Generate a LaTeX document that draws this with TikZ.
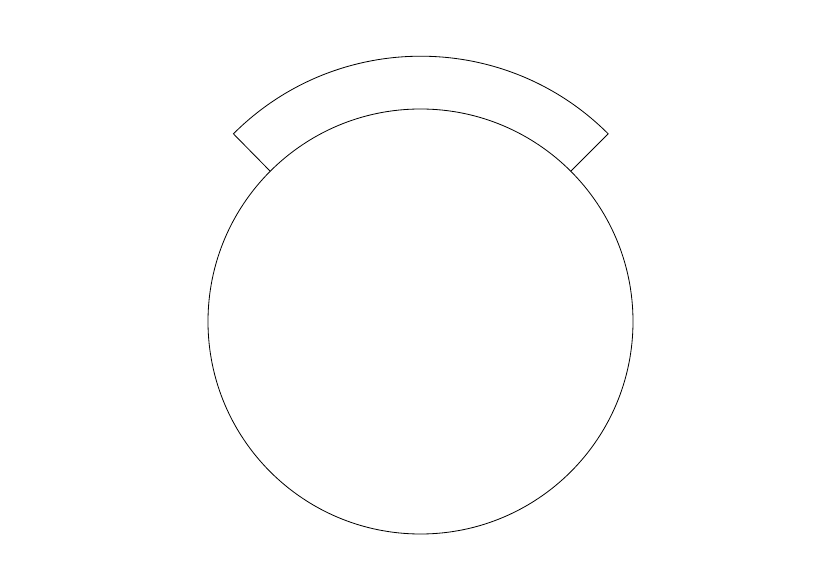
\documentclass[tikz,border=0pt]{standalone}
\usetikzlibrary{positioning}
\begin{document}
\begin{tikzpicture}[x=0.03cm, y=0.03cm, line width=0.7pt,
                main disc/.style={circle, draw, inner sep=0pt, minimum size=12.75cm}]
                \useasboundingbox (0,0) rectangle (826,583);
                
                  \coordinate (centre) at (420.5,261.5);
                  \node[main disc] (disc) at (centre) {};
                  
                  % band over the top of the disc
                  \draw (disc.45) -- ++(45:52.5) arc (45:135:265) -- (disc.135);
                       	
\end{tikzpicture}
\end{document}
